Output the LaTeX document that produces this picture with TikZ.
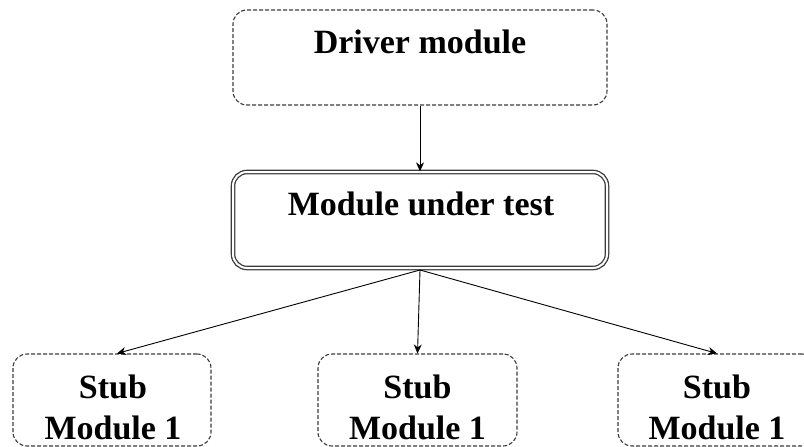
\documentclass[tikz,border=0pt]{standalone}
\usepackage{fontspec}
\setmainfont{Liberation Serif}
\usetikzlibrary{arrows.meta}
\definecolor{edge}{RGB}{60,60,60}
\begin{document}
\begin{tikzpicture}[x=1pt,y=-1pt,
  dbox/.style={draw=edge, line width=1.1pt, dash pattern=on 4pt off 2pt, rounded corners=14pt, inner sep=0pt},
  mbox/.style={draw=edge, double=white, double distance=2pt, line width=1.3pt, rounded corners=14pt, inner sep=0pt},
  lbl/.style={font=\bfseries\fontsize{34}{40}\selectfont, inner sep=0pt, anchor=base},
  conn/.style={draw=black, line width=0.9pt, -{Stealth[length=9pt,width=8pt]}}]
\useasboundingbox (0,0) rectangle (804,447);
\fill[white] (0,0) rectangle (804,447);

\node[dbox, minimum width=374pt, minimum height=95pt] (drv) at (420,57.5) {};
\node[lbl] (drvt) at (420,53) {Driver module};

\node[mbox, minimum width=374pt, minimum height=96pt] (mut) at (420,220) {};
\node[lbl] (mutt) at (421,215) {Module under test};

\node[dbox, minimum width=198pt, minimum height=92pt] (s1) at (112,400) {};
\node[dbox, minimum width=199pt, minimum height=92pt] (s2) at (417.5,400) {};
\node[dbox, minimum width=198pt, minimum height=92pt] (s3) at (717,400) {};

\node[lbl] (s1a) at (113,398) {Stub};
\node[lbl] (s1b) at (113,439) {Module 1};
\node[lbl] (s2a) at (417.5,398) {Stub};
\node[lbl] (s2b) at (417.5,439) {Module 1};
\node[lbl] (s3a) at (717,398) {Stub};
\node[lbl] (s3b) at (717,439) {Module 1};

\coordinate (mb) at (420,270);
\draw[conn] (drv.south) -- (mut.north);
\draw[conn] (mb) -- (s1.north -| 117,0);
\draw[conn] (mb) -- (s2.north);
\draw[conn] (mb) -- (s3.north);
\end{tikzpicture}
\end{document}
